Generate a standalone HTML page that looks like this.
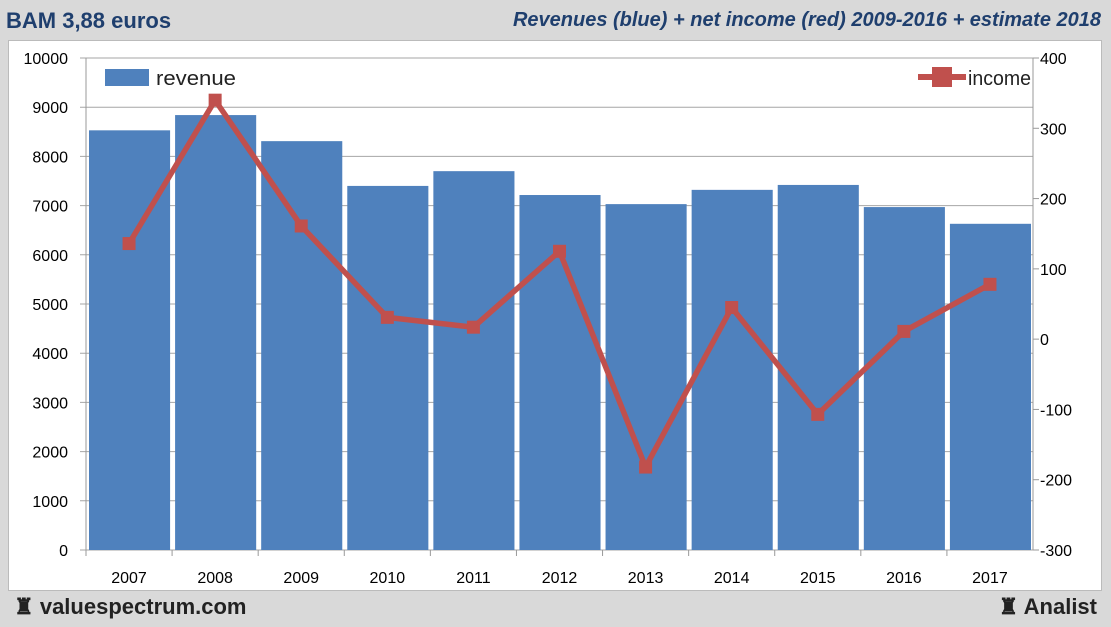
<!DOCTYPE html>
<html><head><meta charset="utf-8"><style>
body{margin:0;width:1111px;height:627px;background:#d9d9d9;font-family:"Liberation Sans",sans-serif;overflow:hidden;position:relative}
#title{position:absolute;left:6px;top:8px;font-size:22px;font-weight:bold;color:#1f3f6e}
#subtitle{position:absolute;right:10px;top:9px;font-size:20px;font-weight:bold;font-style:italic;color:#1f3f6e}
#panel{position:absolute;left:8px;top:40px;width:1092px;height:549px;background:#fff;border:1px solid #bbb}
#foot{position:absolute;left:14px;top:594px;font-size:22px;font-weight:bold;color:#222}
#foot2{position:absolute;right:14px;top:594px;font-size:22px;font-weight:bold;color:#222}
</style></head><body>
<div id="title">BAM 3,88 euros</div>
<div id="subtitle">Revenues (blue) + net income (red) 2009-2016 + estimate 2018</div>
<div id="panel"></div>
<svg id="chart" width="1111" height="627" style="position:absolute;left:0;top:0"></svg>
<div id="foot">♜ valuespectrum.com</div>
<div id="foot2">♜ Analist</div>
<script>
const years=["2007","2008","2009","2010","2011","2012","2013","2014","2015","2016","2017"];
const revenue=[8530,8840,8310,7400,7700,7215,7030,7320,7420,6970,6630];
const income=[136,340,161,31,17,125,-182,45,-107,11,78];
const leftTicks=[0,1000,2000,3000,4000,5000,6000,7000,8000,9000,10000];
const rightTicks=[-300,-200,-100,0,100,200,300,400];
const NS="http://www.w3.org/2000/svg";
const svg=document.getElementById('chart');
const X0=86,X1=1033,Y0=550,Y1=58;
const bw=(X1-X0)/years.length;
const yL=v=>Y0-(v/10000)*(Y0-Y1);
const yR=v=>Y0-((v+300)/700)*(Y0-Y1);
const xc=i=>X0+bw*(i+0.5);
function el(t,a){const e=document.createElementNS(NS,t);for(const k in a)e.setAttribute(k,a[k]);svg.appendChild(e);return e;}
leftTicks.forEach(v=>{
  const g=el('line',{x1:X0-6,x2:X1,y1:yL(v),y2:yL(v),stroke:'#a6a6a6','stroke-width':1});
  
  
  const t=el('text',{x:68,y:yL(v)+6,'text-anchor':'end','font-size':16,fill:'#000'});t.textContent=v;
  
  
});
rightTicks.forEach(v=>{
  const t=el('text',{x:1040,y:yR(v)+6,'font-size':16,fill:'#000'});t.textContent=v;
  
  
  el('line',{x1:X1,x2:X1+6,y1:yR(v),y2:yR(v),stroke:'#999'});
});
el('line',{x1:X0,x2:X0,y1:Y1,y2:Y0,stroke:'#999'});
el('line',{x1:X1,x2:X1,y1:Y1,y2:Y0,stroke:'#999'});
years.forEach((y,i)=>{
  const b=el('rect',{x:X0+bw*i+3,y:yL(revenue[i]),width:bw-5,height:Y0-yL(revenue[i]),fill:'#4f81bd'});
  
  
  el('line',{x1:X0+bw*i,x2:X0+bw*i,y1:Y0,y2:Y0+6,stroke:'#999'});
  const t=el('text',{x:xc(i),y:Y0+33,'text-anchor':'middle','font-size':16,fill:'#000'});t.textContent=y;
  
  
});
const pl=el('polyline',{points:income.map((v,i)=>xc(i)+','+yR(v)).join(' '),fill:'none',stroke:'#c0504d','stroke-width':5.5});


income.forEach((v,i)=>{
  const m=el('rect',{x:xc(i)-6.5,y:yR(v)-6.5,width:13,height:13,fill:'#c0504d'});
  
  
});
const lr=el('rect',{x:105,y:69,width:44,height:17,fill:'#4f81bd'});


const lt=el('text',{x:156,y:85,'font-size':20,fill:'#222',textLength:80,lengthAdjust:'spacingAndGlyphs'});lt.textContent='revenue';


el('line',{x1:918,x2:966,y1:77,y2:77,stroke:'#c0504d','stroke-width':6});
const li=el('rect',{x:932,y:67,width:20,height:20,fill:'#c0504d'});


const it=el('text',{x:968,y:85,'font-size':20,fill:'#222',textLength:63,lengthAdjust:'spacingAndGlyphs'});it.textContent='income';


</script>
</body></html>
